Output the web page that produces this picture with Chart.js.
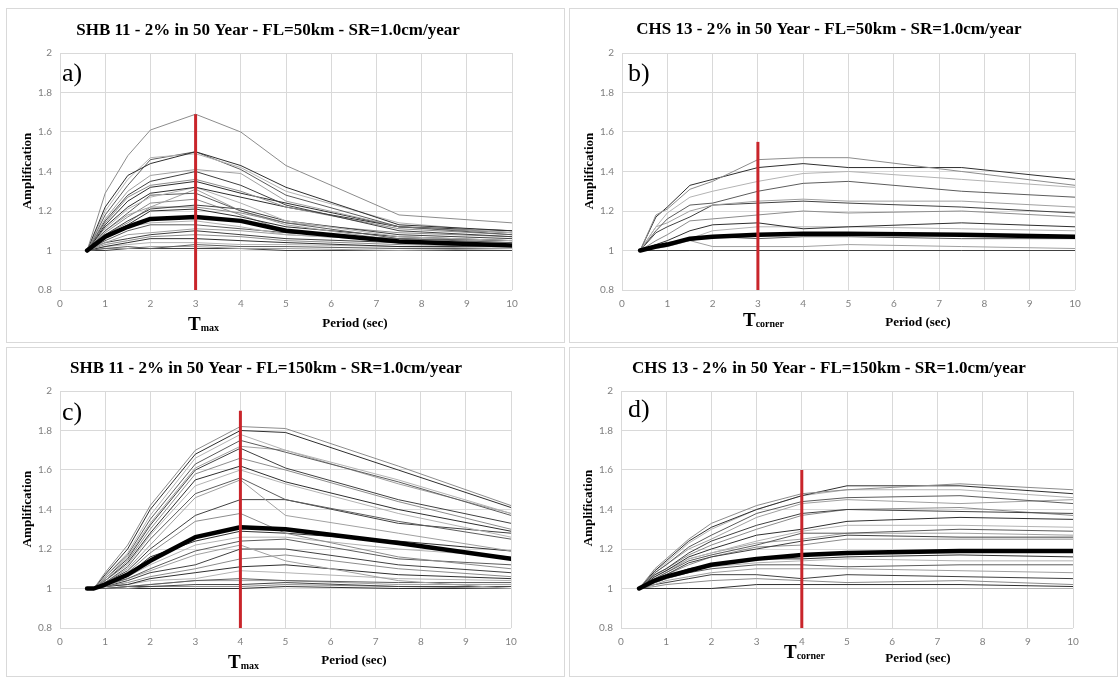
<!DOCTYPE html>
<html>
<head>
<meta charset="utf-8">
<title>Amplification curves</title>
<script src="https://cdn.jsdelivr.net/npm/chart.js@4.4.1/dist/chart.umd.min.js"></script>
<style>
  body { margin: 0; background: #fff; width: 1119px; height: 677px; overflow: hidden; position: relative; }
  .panel { position: absolute; border: 1px solid #d9d9d9; background: #fff; }
  .panel canvas { display: block; }
</style>
</head>
<body>
<div class="panel" style="left:6px;top:8px;"><canvas id="chartA" width="557" height="333"></canvas></div>
<div class="panel" style="left:569px;top:8px;"><canvas id="chartB" width="547" height="333"></canvas></div>
<div class="panel" style="left:6px;top:347px;"><canvas id="chartC" width="557" height="328"></canvas></div>
<div class="panel" style="left:569px;top:347px;"><canvas id="chartD" width="547" height="328"></canvas></div>
<script>
// axis ticks
const xTicks = [0, 1, 2, 3, 4, 5, 6, 7, 8, 9, 10];
const yTicks = [0.8, 1, 1.2, 1.4, 1.6, 1.8, 2];

// a) SHB 11 - FL=50km
const periodsA = [0.6, 1, 1.5, 2, 3, 4, 5, 7.5, 10];
const curvesA = [
  [1, 1.29, 1.48, 1.61, 1.69, 1.60, 1.43, 1.18, 1.14],
  [1, 1.22, 1.38, 1.44, 1.50, 1.43, 1.32, 1.13, 1.10],
  [1, 1.20, 1.36, 1.47, 1.49, 1.42, 1.30, 1.14, 1.09],
  [1, 1.18, 1.33, 1.46, 1.50, 1.41, 1.28, 1.12, 1.08],
  [1, 1.16, 1.30, 1.38, 1.41, 1.39, 1.25, 1.12, 1.09],
  [1, 1.15, 1.28, 1.35, 1.40, 1.33, 1.23, 1.10, 1.07],
  [1, 1.14, 1.27, 1.33, 1.36, 1.30, 1.22, 1.11, 1.08],
  [1, 1.12, 1.22, 1.29, 1.32, 1.27, 1.22, 1.12, 1.10],
  [1, 1.11, 1.21, 1.27, 1.32, 1.24, 1.15, 1.07, 1.05],
  [1, 1.10, 1.19, 1.28, 1.29, 1.20, 1.14, 1.06, 1.04],
  [1, 1.10, 1.18, 1.22, 1.31, 1.20, 1.13, 1.05, 1.03],
  [1, 1.08, 1.15, 1.21, 1.23, 1.21, 1.15, 1.08, 1.06],
  [1, 1.08, 1.14, 1.22, 1.22, 1.19, 1.14, 1.09, 1.07],
  [1, 1.07, 1.13, 1.20, 1.21, 1.17, 1.12, 1.07, 1.05],
  [1, 1.06, 1.12, 1.14, 1.15, 1.12, 1.08, 1.05, 1.04],
  [1, 1.05, 1.10, 1.13, 1.13, 1.11, 1.09, 1.06, 1.05],
  [1, 1.04, 1.08, 1.09, 1.11, 1.10, 1.08, 1.05, 1.04],
  [1, 1.04, 1.06, 1.08, 1.10, 1.08, 1.06, 1.04, 1.03],
  [1, 1.03, 1.05, 1.07, 1.08, 1.07, 1.05, 1.03, 1.02],
  [1, 1.02, 1.04, 1.06, 1.06, 1.05, 1.04, 1.02, 1.02],
  [1, 1.02, 1.03, 1.04, 1.04, 1.03, 1.03, 1.02, 1.01],
  [1, 1.01, 1.02, 1.01, 1.03, 1.02, 1.02, 1.01, 1.01],
  [1, 1.01, 1.01, 1.02, 1.02, 1.01, 1.01, 1.00, 1.01],
  [1, 1.00, 1.01, 1.01, 1.01, 1.01, 1.00, 1.00, 1.00],
  [1, 1.09, 1.17, 1.24, 1.26, 1.18, 1.10, 1.05, 1.03],
  [1, 1.13, 1.25, 1.32, 1.35, 1.29, 1.24, 1.12, 1.09]
];
const meanA = [1, 1.07, 1.12, 1.16, 1.17, 1.15, 1.10, 1.045, 1.025];
const markA = [3, 1.69]; // period, top of red line

// b) CHS 13 - FL=50km
const periodsB = [0.4, 0.75, 1, 1.5, 2, 3, 4, 5, 7.5, 10];
const curvesB = [
  [1, 1.18, 1.21, 1.31, 1.35, 1.46, 1.47, 1.47, 1.40, 1.33],
  [1, 1.17, 1.22, 1.33, 1.36, 1.42, 1.44, 1.42, 1.42, 1.36],
  [1, 1.12, 1.19, 1.27, 1.30, 1.35, 1.39, 1.40, 1.36, 1.32],
  [1, 1.10, 1.16, 1.23, 1.24, 1.30, 1.34, 1.35, 1.30, 1.27],
  [1, 1.12, 1.14, 1.20, 1.23, 1.25, 1.26, 1.25, 1.25, 1.22],
  [1, 1.09, 1.12, 1.17, 1.23, 1.24, 1.25, 1.24, 1.22, 1.19],
  [1, 1.05, 1.08, 1.15, 1.16, 1.18, 1.20, 1.19, 1.20, 1.17],
  [1, 1.03, 1.05, 1.10, 1.13, 1.14, 1.11, 1.12, 1.14, 1.12],
  [1, 1.02, 1.04, 1.06, 1.10, 1.12, 1.12, 1.12, 1.11, 1.10],
  [1, 1.02, 1.04, 1.05, 1.07, 1.06, 1.07, 1.07, 1.06, 1.06],
  [1, 1.01, 1.02, 1.05, 1.02, 1.02, 1.02, 1.03, 1.02, 1.01],
  [1, 1.00, 1.00, 1.00, 1.00, 1.00, 1.00, 1.00, 1.00, 1.00]
];
const meanB = [1, 1.02, 1.03, 1.06, 1.07, 1.08, 1.085, 1.085, 1.08, 1.07];
const markB = [3, 1.55];

// c) SHB 11 - FL=150km
const periodsC = [0.6, 0.75, 1, 1.5, 2, 3, 4, 5, 7.5, 10];
const curvesC = [
  [1, 1, 1.08, 1.22, 1.42, 1.70, 1.82, 1.81, 1.62, 1.42],
  [1, 1, 1.07, 1.20, 1.40, 1.68, 1.80, 1.79, 1.60, 1.41],
  [1, 1, 1.06, 1.18, 1.37, 1.66, 1.78, 1.70, 1.55, 1.38],
  [1, 1, 1.06, 1.17, 1.35, 1.63, 1.75, 1.69, 1.54, 1.37],
  [1, 1, 1.05, 1.16, 1.33, 1.61, 1.72, 1.70, 1.53, 1.38],
  [1, 1, 1.05, 1.15, 1.32, 1.60, 1.71, 1.61, 1.45, 1.33],
  [1, 1, 1.04, 1.14, 1.30, 1.58, 1.66, 1.60, 1.44, 1.30],
  [1, 1, 1.04, 1.13, 1.28, 1.55, 1.62, 1.54, 1.40, 1.29],
  [1, 1, 1.04, 1.12, 1.27, 1.52, 1.60, 1.53, 1.38, 1.26],
  [1, 1, 1.03, 1.11, 1.25, 1.48, 1.56, 1.45, 1.34, 1.25],
  [1, 1, 1.03, 1.10, 1.22, 1.46, 1.55, 1.37, 1.28, 1.19],
  [1, 1, 1.03, 1.09, 1.20, 1.37, 1.45, 1.45, 1.33, 1.28],
  [1, 1, 1.02, 1.08, 1.18, 1.34, 1.38, 1.28, 1.16, 1.10],
  [1, 1, 1.02, 1.07, 1.16, 1.24, 1.29, 1.28, 1.24, 1.19],
  [1, 1, 1.02, 1.06, 1.12, 1.22, 1.26, 1.26, 1.20, 1.16],
  [1, 1, 1.02, 1.05, 1.10, 1.19, 1.24, 1.25, 1.15, 1.12],
  [1, 1, 1.01, 1.05, 1.09, 1.17, 1.22, 1.14, 1.04, 1.00],
  [1, 1, 1.01, 1.04, 1.08, 1.12, 1.20, 1.20, 1.12, 1.08],
  [1, 1, 1.01, 1.03, 1.06, 1.10, 1.15, 1.17, 1.10, 1.06],
  [1, 1, 1.01, 1.02, 1.05, 1.08, 1.11, 1.12, 1.07, 1.05],
  [1, 1, 1.01, 1.02, 1.04, 1.05, 1.09, 1.08, 1.05, 1.04],
  [1, 1, 1.00, 1.01, 1.02, 1.04, 1.05, 1.04, 1.03, 1.03],
  [1, 1, 1.00, 1.01, 1.02, 1.04, 1.04, 1.04, 1.02, 1.02],
  [1, 1, 1.00, 1.01, 1.01, 1.02, 1.02, 1.03, 1.01, 1.01],
  [1, 1, 1.00, 1.00, 1.01, 1.01, 1.01, 1.02, 1.01, 1.00],
  [1, 1, 1.00, 1.00, 1.00, 1.00, 1.00, 1.01, 1.00, 1.00]
];
const meanC = [1, 1, 1.02, 1.07, 1.14, 1.26, 1.31, 1.30, 1.23, 1.15];
const markC = [4, 1.90];

// d) CHS 13 - FL=150km
const periodsD = [0.4, 0.75, 1, 1.5, 2, 3, 4, 5, 7.5, 10];
const curvesD = [
  [1, 1.10, 1.15, 1.25, 1.33, 1.42, 1.48, 1.50, 1.53, 1.50],
  [1, 1.09, 1.14, 1.24, 1.31, 1.40, 1.47, 1.52, 1.52, 1.48],
  [1, 1.09, 1.13, 1.23, 1.30, 1.40, 1.47, 1.50, 1.50, 1.46],
  [1, 1.08, 1.12, 1.21, 1.27, 1.38, 1.44, 1.46, 1.47, 1.43],
  [1, 1.08, 1.12, 1.20, 1.25, 1.36, 1.43, 1.45, 1.43, 1.45],
  [1, 1.07, 1.10, 1.18, 1.24, 1.32, 1.38, 1.40, 1.39, 1.38],
  [1, 1.07, 1.10, 1.17, 1.22, 1.30, 1.37, 1.40, 1.41, 1.37],
  [1, 1.06, 1.09, 1.16, 1.20, 1.27, 1.30, 1.34, 1.36, 1.35],
  [1, 1.06, 1.09, 1.15, 1.18, 1.24, 1.29, 1.32, 1.32, 1.31],
  [1, 1.05, 1.08, 1.14, 1.17, 1.22, 1.28, 1.28, 1.30, 1.29],
  [1, 1.05, 1.08, 1.15, 1.18, 1.23, 1.25, 1.28, 1.28, 1.27],
  [1, 1.05, 1.07, 1.13, 1.16, 1.20, 1.24, 1.27, 1.26, 1.26],
  [1, 1.04, 1.07, 1.12, 1.16, 1.21, 1.22, 1.25, 1.25, 1.25],
  [1, 1.04, 1.06, 1.10, 1.12, 1.15, 1.15, 1.16, 1.17, 1.16],
  [1, 1.03, 1.05, 1.09, 1.11, 1.13, 1.14, 1.15, 1.14, 1.14],
  [1, 1.03, 1.05, 1.08, 1.10, 1.12, 1.12, 1.11, 1.12, 1.12],
  [1, 1.02, 1.04, 1.06, 1.08, 1.10, 1.10, 1.10, 1.09, 1.08],
  [1, 1.02, 1.03, 1.05, 1.07, 1.07, 1.05, 1.07, 1.06, 1.05],
  [1, 1.01, 1.02, 1.03, 1.04, 1.05, 1.04, 1.03, 1.04, 1.02],
  [1, 1.00, 1.00, 1.00, 1.00, 1.02, 1.02, 1.02, 1.02, 1.01],
  [1, 1.00, 1.00, 1.00, 1.00, 1.00, 1.00, 1.00, 1.00, 1.00]
];
const meanD = [1, 1.04, 1.06, 1.09, 1.12, 1.15, 1.17, 1.18, 1.19, 1.19];
const markD = [4, 1.60];

const shades = ["#8c8c8c", "#2e2e2e", "#b3b3b3", "#5c5c5c", "#a0a0a0", "#404040"];

// text + chart area layout per panel (canvas pixels)
const panels = [
  { canvas: "chartA", periods: periodsA, curves: curvesA, mean: meanA, mark: markA,
    area: { left: 53, top: 44, right: 52, bottom: 52 },
    text: { title: "SHB 11 - 2% in 50 Year - FL=50km - SR=1.0cm/year", titleX: 261, titleY: 26,
            letter: "a)", letterX: 55, letterY: 72, ampX: 21, ampY: 162,
            periodX: 348, periodY: 318, tSub: "max", tX: 181, tY: 321 } },
  { canvas: "chartB", periods: periodsB, curves: curvesB, mean: meanB, mark: markB,
    area: { left: 52, top: 44, right: 42, bottom: 52 },
    text: { title: "CHS 13 - 2% in 50 Year - FL=50km - SR=1.0cm/year", titleX: 259, titleY: 25,
            letter: "b)", letterX: 58, letterY: 72, ampX: 20, ampY: 162,
            periodX: 348, periodY: 317, tSub: "corner", tX: 173, tY: 317 } },
  { canvas: "chartC", periods: periodsC, curves: curvesC, mean: meanC, mark: markC,
    area: { left: 53, top: 43, right: 53, bottom: 48 },
    text: { title: "SHB 11 - 2% in 50 Year - FL=150km - SR=1.0cm/year", titleX: 259, titleY: 25,
            letter: "c)", letterX: 55, letterY: 72, ampX: 21, ampY: 161,
            periodX: 347, periodY: 316, tSub: "max", tX: 221, tY: 320 } },
  { canvas: "chartD", periods: periodsD, curves: curvesD, mean: meanD, mark: markD,
    area: { left: 51, top: 43, right: 44, bottom: 48 },
    text: { title: "CHS 13 - 2% in 50 Year - FL=150km - SR=1.0cm/year", titleX: 259, titleY: 25,
            letter: "d)", letterX: 58, letterY: 69, ampX: 19, ampY: 160,
            periodX: 348, periodY: 314, tSub: "corner", tX: 214, tY: 310 } }
];

const panelText = {
  id: "panelText",
  afterDraw(chart, args, t) {
    const ctx = chart.ctx;
    ctx.save();
    ctx.fillStyle = "#000";
    ctx.textBaseline = "alphabetic";

    ctx.textAlign = "center";
    ctx.font = 'bold 17px "Liberation Serif"';
    ctx.fillText(t.title, t.titleX, t.titleY);

    ctx.font = 'bold 13px "Liberation Serif"';
    ctx.fillText("Period (sec)", t.periodX, t.periodY);

    ctx.save();
    ctx.translate(t.ampX, t.ampY);
    ctx.rotate(-Math.PI / 2);
    ctx.textBaseline = "middle";
    ctx.fillText("Amplification", 0, 0);
    ctx.restore();

    ctx.textAlign = "left";
    ctx.font = '26px "Liberation Serif"';
    ctx.fillText(t.letter, t.letterX, t.letterY);

    ctx.font = 'bold 19px "Liberation Serif"';
    ctx.fillText("T", t.tX, t.tY);
    const w = ctx.measureText("T").width;
    ctx.font = 'bold 10px "Liberation Serif"';
    ctx.fillText(t.tSub, t.tX + w, t.tY + 1);
    ctx.restore();
  }
};

function toPoints(periods, values) {
  return periods.map((x, i) => ({ x: x, y: values[i] }));
}

function buildChart(p) {
  const datasets = [];
  datasets.push({
    data: [{ x: p.mark[0], y: yTicks[0] }, { x: p.mark[0], y: p.mark[1] }],
    borderColor: "#c9252b", borderWidth: 3, borderCapStyle: "butt", order: 0
  });
  datasets.push({
    data: toPoints(p.periods, p.mean),
    borderColor: "#000", borderWidth: 4.5, borderCapStyle: "round", order: 1
  });
  p.curves.forEach((c, k) => {
    datasets.push({
      data: toPoints(p.periods, c),
      borderColor: shades[k % shades.length], borderWidth: 1, order: 2
    });
  });

  const tickFont = { family: "Lato", size: 10 };
  new Chart(document.getElementById(p.canvas), {
    type: "line",
    data: { datasets: datasets },
    options: {
      responsive: false,
      animation: false,
      events: [],
      layout: { padding: { left: 0, top: p.area.top, right: p.area.right, bottom: 0 } },
      elements: { point: { radius: 0 }, line: { tension: 0, borderJoinStyle: "round" } },
      plugins: { legend: { display: false }, tooltip: { enabled: false }, panelText: p.text },
      scales: {
        x: {
          type: "linear", min: 0, max: 10,
          afterBuildTicks: s => { s.ticks = xTicks.map(v => ({ value: v })); },
          afterFit: s => { s.height = p.area.bottom; },
          grid: { color: "#d9d9d9", drawTicks: false },
          border: { display: false },
          ticks: { color: "#808080", font: tickFont, padding: 8, maxRotation: 0, autoSkip: false,
                   callback: v => String(v) }
        },
        y: {
          type: "linear", min: 0.8, max: 2,
          afterBuildTicks: s => { s.ticks = yTicks.map(v => ({ value: v })); },
          afterFit: s => { s.width = p.area.left; },
          grid: { color: "#d9d9d9", drawTicks: false },
          border: { display: false },
          ticks: { color: "#808080", font: tickFont, padding: 8,
                   callback: v => String(Math.round(v * 10) / 10) }
        }
      }
    },
    plugins: [panelText]
  });
}

panels.forEach(buildChart);
</script>
</body>
</html>
